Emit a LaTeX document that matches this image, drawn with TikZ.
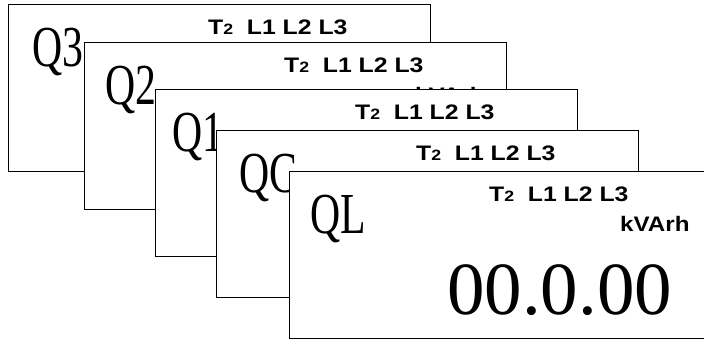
\documentclass[tikz,border=0pt]{standalone}
\usepackage{graphicx}
\usepackage{fontspec}
\setmainfont{Liberation Serif}
\setsansfont{Liberation Sans}
\usetikzlibrary{positioning}

\begin{document}
\begin{tikzpicture}[x=1pt,y=-1pt,
                pan/.style={draw,fill=white,line width=1pt,minimum width=422pt,
                        minimum height=167pt,inner sep=0pt,anchor=north west},
                big/.style={inner sep=0pt,font=\fontsize{58}{58}\selectfont},
                sm/.style={inner sep=0pt,font=\sffamily\bfseries\fontsize{21}{21}\selectfont},
                num/.style={inner sep=0pt,font=\fontsize{75}{75}\selectfont}]
                \useasboundingbox (0,0) rectangle (704,338);
                \clip (0,0) rectangle (704,338);
                % Q3
                \node[pan] (q3) at (8,3.5) {};
                \node[big] (textq3)[below right=24pt and 24pt of q3.north west]{\scalebox{0.72}[1]{Q3}};
                \node[sm] (tq3)[below right=16pt and 200pt of q3.north west]{\scalebox{1.18}[1]{T{\fontsize{15}{15}\selectfont 2}\ \ L1 L2 L3}};
                \node[sm] (uq3)[below right=45pt and 331pt of q3.north west]{\scalebox{1.15}[1]{kVArh}};
                \node[num] (dq3)[below right=93pt and 158pt of q3.north west]{00.0.00};
                % Q2
                \node[pan] (q2) at (84,42) {};
                \node[big] (textq2)[below right=24pt and 21pt of q2.north west]{\scalebox{0.72}[1]{Q2}};
                \node[sm] (tq2)[below right=16pt and 200pt of q2.north west]{\scalebox{1.18}[1]{T{\fontsize{15}{15}\selectfont 2}\ \ L1 L2 L3}};
                \node[sm] (uq2)[below right=45pt and 331pt of q2.north west]{\scalebox{1.15}[1]{kVArh}};
                \node[num] (dq2)[below right=93pt and 158pt of q2.north west]{00.0.00};
                % Q1
                \node[pan] (q1) at (155,88.5) {};
                \node[big] (textq1)[below right=24pt and 17pt of q1.north west]{\scalebox{0.72}[1]{Q1}};
                \node[sm] (tq1)[below right=16pt and 200pt of q1.north west]{\scalebox{1.18}[1]{T{\fontsize{15}{15}\selectfont 2}\ \ L1 L2 L3}};
                \node[sm] (uq1)[below right=45pt and 331pt of q1.north west]{\scalebox{1.15}[1]{kVArh}};
                \node[num] (dq1)[below right=93pt and 158pt of q1.north west]{00.0.00};
                % QC
                \node[pan] (qc) at (216,129.5) {};
                \node[big] (textqc)[below right=24pt and 23pt of qc.north west]{\scalebox{0.72}[1]{QC}};
                \node[sm] (tqc)[below right=16pt and 200pt of qc.north west]{\scalebox{1.18}[1]{T{\fontsize{15}{15}\selectfont 2}\ \ L1 L2 L3}};
                \node[sm] (uqc)[below right=45pt and 331pt of qc.north west]{\scalebox{1.15}[1]{kVArh}};
                \node[num] (dqc)[below right=93pt and 158pt of qc.north west]{00.0.00};
                % QL
                \node[pan] (ql) at (289,171) {};
                \node[big] (textql)[below right=24pt and 21pt of ql.north west]{\scalebox{0.72}[1]{QL}};
                \node[sm] (tql)[below right=16pt and 200pt of ql.north west]{\scalebox{1.18}[1]{T{\fontsize{15}{15}\selectfont 2}\ \ L1 L2 L3}};
                \node[sm] (uql)[below right=45pt and 331pt of ql.north west]{\scalebox{1.15}[1]{kVArh}};
                \node[num] (dql)[below right=93pt and 158pt of ql.north west]{00.0.00};
\end{tikzpicture}
\end{document}
